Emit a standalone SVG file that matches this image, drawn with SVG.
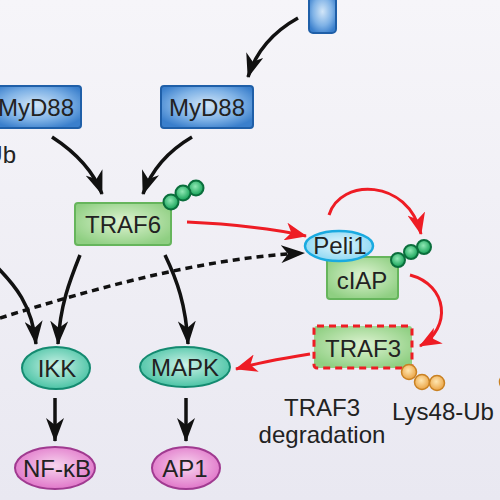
<svg xmlns="http://www.w3.org/2000/svg" width="500" height="500" viewBox="0 0 500 500">
<defs>
<linearGradient id="bg" x1="0" y1="0" x2="0" y2="1"><stop offset="0" stop-color="#f6f5f9"/><stop offset="1" stop-color="#e9e8f1"/></linearGradient>
<radialGradient id="gBlue" cx="0.5" cy="0.45" r="0.6"><stop offset="0" stop-color="#d2e6f8"/><stop offset="0.6" stop-color="#7fb2e6"/><stop offset="1" stop-color="#3a7fcc"/></radialGradient>
<radialGradient id="gGreen" cx="0.5" cy="0.45" r="0.6"><stop offset="0" stop-color="#def3d2"/><stop offset="1" stop-color="#8fcf82"/></radialGradient>
<radialGradient id="gCyan" cx="0.5" cy="0.45" r="0.6"><stop offset="0" stop-color="#e4f7fd"/><stop offset="1" stop-color="#86d5f2"/></radialGradient>
<radialGradient id="gTeal" cx="0.5" cy="0.45" r="0.6"><stop offset="0" stop-color="#cdf2e7"/><stop offset="1" stop-color="#3fbf9f"/></radialGradient>
<radialGradient id="gPink" cx="0.5" cy="0.45" r="0.6"><stop offset="0" stop-color="#f8d6ef"/><stop offset="1" stop-color="#de6ec6"/></radialGradient>
<radialGradient id="gBead" cx="0.45" cy="0.4" r="0.6"><stop offset="0" stop-color="#8fe8b4"/><stop offset="1" stop-color="#12a055"/></radialGradient>
<radialGradient id="gOrange" cx="0.45" cy="0.4" r="0.6"><stop offset="0" stop-color="#ffe6b0"/><stop offset="1" stop-color="#eaa344"/></radialGradient>
<marker id="ahB" viewBox="0 0 24 18" refX="23" refY="9" markerWidth="24" markerHeight="18" markerUnits="userSpaceOnUse" orient="auto"><path d="M0,0 L24,9 L0,18 L7,9 z" fill="#111"/></marker>
<marker id="ahR" viewBox="0 0 22 18" refX="21" refY="9" markerWidth="22" markerHeight="18" markerUnits="userSpaceOnUse" orient="auto"><path d="M0,0 L22,9 L0,18 L6,9 z" fill="#ee1c24"/></marker>
</defs>
<style>
text{font-family:"Liberation Sans",Arial,sans-serif;font-size:24px;fill:#222;text-anchor:middle}
.blue{fill:url(#gBlue);stroke:#1f5fa8;stroke-width:2}
.green{fill:url(#gGreen);stroke:#66b55c;stroke-width:2}
.bead{fill:url(#gBead);stroke:#0a6e3c;stroke-width:2}
.obead{fill:url(#gOrange);stroke:#c98122;stroke-width:1.5}
.blk{fill:none;stroke:#111;stroke-width:3.5;marker-end:url(#ahB)}
.red{fill:none;stroke:#ee1c24;stroke-width:3;marker-end:url(#ahR)}
</style>
<rect width="500" height="500" fill="url(#bg)"/>

<g id="connectors">
<path class="blk" d="M298,18 C280,28 258,45 248,77"/>
<path class="blk" d="M52,137 C72,150 92,167 102,194"/>
<path class="blk" d="M192,137 C170,150 152,168 143,194"/>
<path class="blk" d="M80,255 C70,280 60,305 58,344"/>
<path class="blk" d="M-5,265 C15,285 32,305 36,344"/>
<path class="blk" d="M165,255 C177,280 186,305 188,344"/>
<path class="blk" d="M55,398 L55,441"/>
<path class="blk" d="M186,398 L186,441"/>
<path class="blk" d="M0,318 C90,290 200,258 304,253" stroke-dasharray="7 5"/>
<path class="red" d="M187,222 C230,224 270,228 306,236"/>
<path class="red" d="M329,215 C340,178 408,178 421,234"/>
<path class="red" d="M410,275 C448,285 452,328 420,346"/>
<path class="red" d="M310,354 C285,358 260,362 236,369"/>
</g>

<g id="receptor"><rect x="309" y="-6" width="27" height="39" rx="4" class="blue"/></g>
<g id="myd88-left"><rect x="-10" y="86" width="91" height="42" rx="3" class="blue"/><text x="36" y="116" font-size="23">MyD88</text></g>
<g id="myd88-right"><rect x="161" y="86" width="92" height="42" rx="3" class="blue"/><text x="207" y="116" font-size="23">MyD88</text></g>
<g id="ub-left"><text x="16" y="163" style="text-anchor:end">Ub</text></g>

<g id="traf6"><rect x="75" y="203" width="96" height="42" rx="3" class="green"/><text x="123" y="233">TRAF6</text>
<circle cx="196" cy="188" r="7.5" class="bead"/><circle cx="183" cy="193" r="7.5" class="bead"/><circle cx="171" cy="202" r="7.5" class="bead"/></g>

<g id="ciap"><rect x="327" y="257" width="71" height="42" rx="3" class="green"/><text x="362" y="289">cIAP</text>
<circle cx="424" cy="247" r="7" class="bead"/><circle cx="411" cy="252" r="7" class="bead"/><circle cx="398" cy="260" r="7" class="bead"/></g>

<g id="peli1"><ellipse cx="339" cy="246" rx="34" ry="15" fill="url(#gCyan)" stroke="#1aaae0" stroke-width="2.5"/><text x="340" y="254" font-size="23">Peli1</text></g>

<g id="traf3"><rect x="314" y="326" width="98" height="42" rx="3" fill="url(#gGreen)" stroke="#ee1c24" stroke-width="3" stroke-dasharray="7 5"/><text x="363" y="357">TRAF3</text>
<circle cx="409" cy="372" r="7.5" class="obead"/><circle cx="422" cy="382" r="7.5" class="obead"/><circle cx="437" cy="383" r="7.5" class="obead"/></g>
<g id="orange-edge"><circle cx="507" cy="382" r="7.5" class="obead"/></g>

<g id="lys48"><text x="443" y="420">Lys48-Ub</text></g>
<g id="traf3-deg"><text x="322" y="416">TRAF3</text><text x="322" y="443">degradation</text></g>

<g id="ikk"><ellipse cx="56" cy="368" rx="34" ry="21" fill="url(#gTeal)" stroke="#148a70" stroke-width="2"/><text x="57" y="377">IKK</text></g>
<g id="mapk"><ellipse cx="185" cy="367" rx="45" ry="20" fill="url(#gTeal)" stroke="#148a70" stroke-width="2"/><text x="185" y="376">MAPK</text></g>
<g id="nfkb"><ellipse cx="55" cy="468" rx="40" ry="21" fill="url(#gPink)" stroke="#a03a90" stroke-width="2"/><text x="57" y="477">NF-κB</text></g>
<g id="ap1"><ellipse cx="186" cy="468" rx="34" ry="21" fill="url(#gPink)" stroke="#a03a90" stroke-width="2"/><text x="185" y="477">AP1</text></g>
</svg>
